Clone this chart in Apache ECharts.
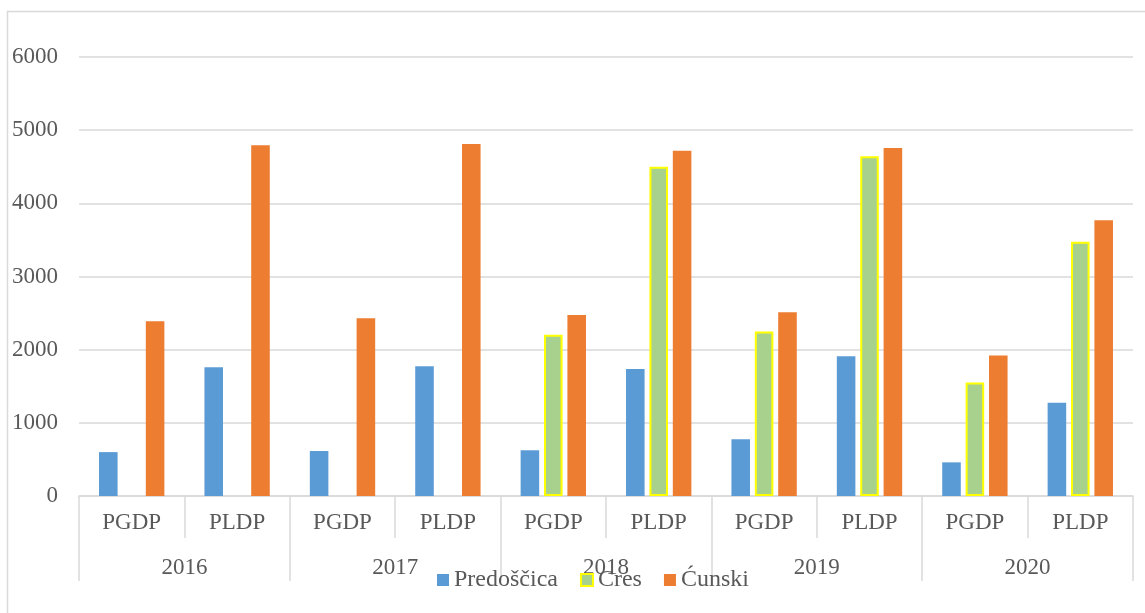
<!DOCTYPE html>
<html>
<head>
<meta charset="utf-8">
<script src="https://cdn.jsdelivr.net/npm/echarts@6/dist/echarts.min.js"></script>
<style>
html, body { margin: 0; padding: 0; background: #fff; }
#chart { width: 1145px; height: 613px; }
</style>
</head>
<body>
<div id="chart"></div>
<script>
var types = ['PGDP', 'PLDP', 'PGDP', 'PLDP', 'PGDP', 'PLDP', 'PGDP', 'PLDP', 'PGDP', 'PLDP'];
var years = ['2016', '2017', '2018', '2019', '2020'];
var predoscica = [600, 1760, 615, 1775, 625, 1735, 775, 1910, 460, 1275];
var cres = [null, null, null, null, 2205, 4500, 2250, 4645, 1550, 3475];
var cunski = [2390, 4795, 2430, 4810, 2475, 4720, 2510, 4755, 1920, 3770];

var font = '"Liberation Serif", "Times New Roman", serif';
var textColor = '#595959';
var lineColor = '#D9D9D9';
var fs = 23;

var myChart = echarts.init(document.getElementById('chart'));

var option = {
    animation: false,
    textStyle: { fontFamily: font },
    graphic: [{
        type: 'rect',
        shape: { x: 7.5, y: 11.5, width: 1200, height: 700 },
        style: { fill: 'none', stroke: lineColor, lineWidth: 1.5 },
        silent: true
    }],
    grid: { left: 79, right: 12, top: 57, bottom: 117 },
    legend: {
        bottom: 16,
        left: 432,
        icon: 'rect',
        itemWidth: 12,
        itemHeight: 12,
        itemGap: 22,
        textStyle: { fontFamily: font, fontSize: 24, color: textColor },
        data: ['Predoščica', 'Cres', 'Ćunski']
    },
    xAxis: [{
        type: 'category',
        data: types,
        axisLine: { lineStyle: { color: lineColor, width: 1.5 } },
        axisTick: { show: true, length: 42, lineStyle: { color: lineColor, width: 1.5 } },
        axisLabel: { fontFamily: font, fontSize: fs, color: textColor, margin: 15 }
    }, {
        type: 'category',
        data: years,
        position: 'bottom',
        axisLine: { show: false },
        axisTick: { show: true, length: 85, lineStyle: { color: lineColor, width: 1.5 } },
        axisLabel: { fontFamily: font, fontSize: fs, color: textColor, margin: 60 }
    }],
    yAxis: {
        type: 'value',
        min: 0,
        max: 6000,
        interval: 1000,
        axisLine: { show: false },
        axisTick: { show: false },
        splitLine: { lineStyle: { color: lineColor, width: 1.5 } },
        axisLabel: {
            fontFamily: font, fontSize: fs, color: textColor, margin: 21,
            formatter: function (v) { return String(v); }
        }
    },
    series: [{
        name: 'Predoščica',
        type: 'bar',
        data: predoscica,
        barGap: '26%',
        barCategoryGap: '38%',
        itemStyle: { color: '#5B9BD5' }
    }, {
        name: 'Cres',
        type: 'bar',
        data: cres,
        itemStyle: { color: '#A9D18E', borderColor: '#FFFF00', borderWidth: 2 }
    }, {
        name: 'Ćunski',
        type: 'bar',
        data: cunski,
        itemStyle: { color: '#ED7D31' }
    }]
};

myChart.setOption(option);
</script>
</body>
</html>
